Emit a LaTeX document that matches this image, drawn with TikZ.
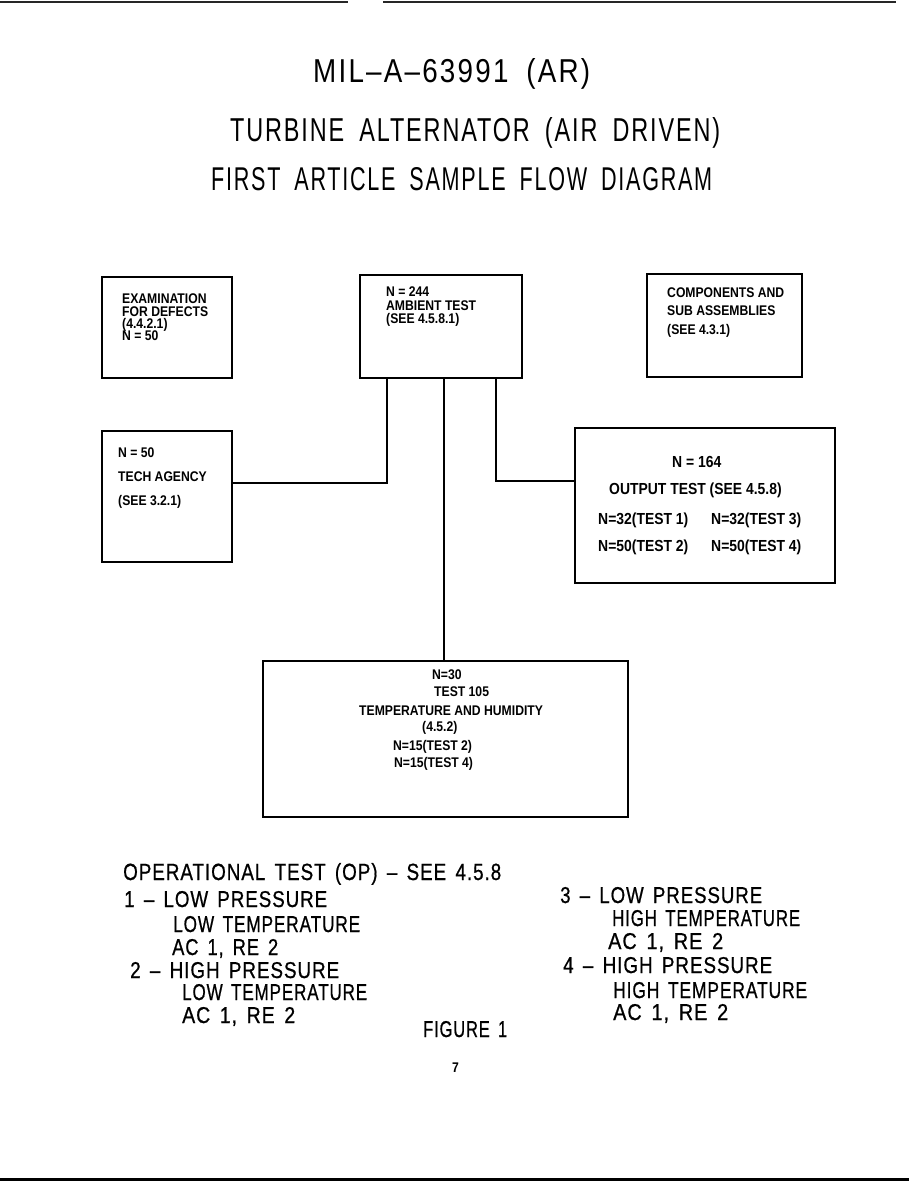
\documentclass[tikz,border=0pt]{standalone}
\usepackage{fontspec}
\usepackage{graphicx}
\setmainfont{Liberation Sans}
\newfontfamily\boxfont[FakeStretch=0.87]{Liberation Sans}
\newfontfamily\titlefont[LetterSpace=8, WordSpace=1.8]{Liberation Sans}
\newfontfamily\legfont[LetterSpace=5, WordSpace=1.5, FakeBold=0.8]{Liberation Sans}
\newcommand\fitw[3]{\resizebox{#1pt}{#2pt}{#3}}
\tikzset{
  box/.style={draw, line width=1.6pt, rectangle, inner sep=0pt},
  conn/.style={line width=1.6pt},
  bt/.style={anchor=base west, inner sep=0pt, font=\boxfont\bfseries\fontsize{14}{14}\selectfont},
  btE/.style={bt, font=\boxfont\bfseries\fontsize{16}{16}\selectfont},
  tt/.style={anchor=base west, inner sep=0pt, font=\titlefont\fontsize{30}{30}\selectfont},
  lt/.style={anchor=base west, inner sep=0pt, font=\legfont\fontsize{21}{21}\selectfont},
  scan/.style={line width=1.4pt, black!85},
}
\begin{document}
\begin{tikzpicture}[x=1pt,y=-1pt]
\useasboundingbox (0,0) rectangle (909,1181);
% scan edge lines
\draw[scan] (0,2) -- (348,2);
\draw[scan] (383,2) -- (896,2);
\draw[line width=3pt] (0,1179.5) -- (909,1179.5);

% titles
\node[tt] (t1) at (313,82) {\fitw{277}{24}{MIL–A–63991 (AR)}};
\node[tt] (t2) at (230,141) {\fitw{490}{24}{TURBINE ALTERNATOR (AIR DRIVEN)}};
\node[tt] (t3) at (211,190) {\fitw{501}{23}{FIRST ARTICLE SAMPLE FLOW DIAGRAM}};

% boxes
\node[box, minimum width=130pt, minimum height=101pt] (exam) at (167,327.5) {};
\node[box, minimum width=162pt, minimum height=103pt] (amb) at (441,326.5) {};
\node[box, minimum width=155pt, minimum height=103pt] (comp) at (724.5,325.5) {};
\node[box, minimum width=130pt, minimum height=131pt] (tech) at (167,496.5) {};
\node[box, minimum width=260pt, minimum height=155pt] (out) at (705,505.5) {};
\node[box, minimum width=365pt, minimum height=156pt] (temp) at (445.5,739) {};

% connectors
\draw[conn] ([xshift=-54pt]amb.south) |- ([yshift=13.5pt]tech.east);
\draw[conn] ([xshift=3pt]amb.south) -- ([xshift=3pt]amb.south |- temp.north);
\draw[conn] ([xshift=55pt]amb.south) |- ([yshift=24.5pt]out.west);

% box texts
\node[bt] (a1) at (122,303) {EXAMINATION};
\node[bt] (a2) at (122,316) {FOR DEFECTS};
\node[bt] (a3) at (122,328) {(4.4.2.1)};
\node[bt] (a4) at (122,340) {N = 50};

\node[bt] (b1) at (386,296) {N = 244};
\node[bt] (b2) at (386,310) {AMBIENT TEST};
\node[bt] (b3) at (386,323) {(SEE 4.5.8.1)};

\node[bt] (c1) at (667,297) {COMPONENTS AND};
\node[bt] (c2) at (667,315) {SUB ASSEMBLIES};
\node[bt] (c3) at (667,334) {(SEE 4.3.1)};

\node[bt] (d1) at (118,457) {N = 50};
\node[bt] (d2) at (118,481) {TECH AGENCY};
\node[bt] (d3) at (118,505) {(SEE 3.2.1)};

\node[btE] (e1) at (672,467) {N = 164};
\node[btE] (e2) at (609,494) {OUTPUT TEST (SEE 4.5.8)};
\node[btE] (e3) at (598,524) {N=32(TEST 1)};
\node[btE] (e4) at (711,524) {N=32(TEST 3)};
\node[btE] (e5) at (598,551) {N=50(TEST 2)};
\node[btE] (e6) at (711,551) {N=50(TEST 4)};

\node[bt] (f1) at (432,679) {N=30};
\node[bt] (f2) at (434,696) {TEST 105};
\node[bt] (f3) at (359,715) {TEMPERATURE AND HUMIDITY};
\node[bt] (f4) at (422,731) {(4.5.2)};
\node[bt] (f5) at (393,750) {N=15(TEST 2)};
\node[bt] (f6) at (394,767) {N=15(TEST 4)};

% legend
\node[lt] (l0) at (123,880) {\fitw{378}{17}{OPERATIONAL TEST (OP) – SEE 4.5.8}};
\node[lt] (l1) at (124,907) {\fitw{203}{16}{1 – LOW PRESSURE}};
\node[lt] (l2) at (173,932) {\fitw{187}{16}{LOW TEMPERATURE}};
\node[lt] (l3) at (172,955) {\fitw{106}{16}{AC 1, RE 2}};
\node[lt] (l4) at (130,978) {\fitw{209}{16}{2 – HIGH PRESSURE}};
\node[lt] (l5) at (182,1000) {\fitw{185}{16}{LOW TEMPERATURE}};
\node[lt] (l6) at (182,1023) {\fitw{113}{16}{AC 1, RE 2}};
\node[lt] (fig) at (423,1037) {\fitw{84}{16}{FIGURE 1}};

\node[lt] (r1) at (560,903) {\fitw{202}{16}{3 – LOW PRESSURE}};
\node[lt] (r2) at (612,926) {\fitw{188}{16}{HIGH TEMPERATURE}};
\node[lt] (r3) at (608,949) {\fitw{115}{16}{AC 1, RE 2}};
\node[lt] (r4) at (563,973) {\fitw{209}{16}{4 – HIGH PRESSURE}};
\node[lt] (r5) at (613,998) {\fitw{194}{16}{HIGH TEMPERATURE}};
\node[lt] (r6) at (613,1020) {\fitw{115}{16}{AC 1, RE 2}};

\node[bt] (pg) at (452,1072) {7};
\end{tikzpicture}
\end{document}
